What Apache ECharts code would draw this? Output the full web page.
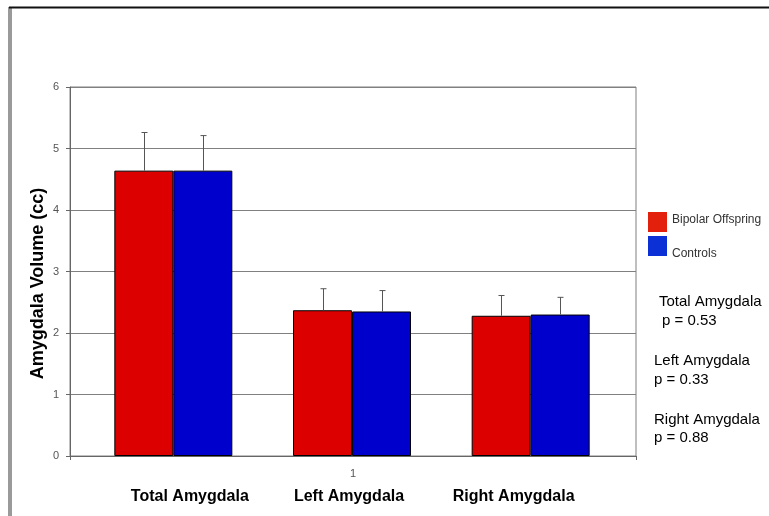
<!DOCTYPE html>
<html>
<head>
<meta charset="utf-8">
<script src="https://cdn.jsdelivr.net/npm/echarts@6/dist/echarts.min.js"></script>
<style>
html,body{margin:0;padding:0;background:#fff;}
#chart{width:769px;height:516px;}
</style>
</head>
<body>
<div id="chart"></div>
<script>
// ---- data ----
var regions = ['Total Amygdala', 'Left Amygdala', 'Right Amygdala'];
var seriesNames = ['Bipolar Offspring', 'Controls'];
var bipolar = [4.64, 2.37, 2.28];
var controls = [4.64, 2.35, 2.30];
var bipolarErr = [0.62, 0.35, 0.33];
var controlsErr = [0.57, 0.34, 0.28];
var outerCategory = ['1'];
var yTicks = [0, 1, 2, 3, 4, 5, 6];
var pRegions = ['Total Amygdala', 'Left Amygdala', 'Right Amygdala'];
var pValues = ['0.53', '0.33', '0.88'];
var yName = 'Amygdala Volume (cc)';

// ---- styles ----
var barColors = ['#DC0000', '#0000CC'];
var legendColors = ['#E2200C', '#0A30D6'];
var BAR_W = 59;
var font = 'Liberation Sans, Arial, sans-serif';

var chart = echarts.init(document.getElementById('chart'));

function errSeries(vals, errs, sign) {
  return {
    type: 'custom',
    xAxisIndex: 1, yAxisIndex: 1,
    silent: true, z: 5,
    data: vals.map(function (v, i) { return [i, v, v + errs[i]]; }),
    renderItem: function (params, api) {
      var base = api.coord([api.value(0), api.value(1)]);
      var top = api.coord([api.value(0), api.value(2)]);
      var x = Math.round(base[0] + sign * BAR_W / 2) + 0.5;
      var st = { stroke: '#555', lineWidth: 1 };
      return {
        type: 'group',
        children: [
          { type: 'line', shape: { x1: x, y1: base[1], x2: x, y2: top[1] }, style: st },
          { type: 'line', shape: { x1: x - 3, y1: top[1], x2: x + 3, y2: top[1] }, style: st }
        ]
      };
    }
  };
}

var labelShifts = [33, -6, -34];

var option = {
  animation: false,
  backgroundColor: '#fff',
  grid: [
    { left: 70, right: 133, top: 87, bottom: 60, show: true, borderColor: '#808080', borderWidth: 1 },
    { left: 84, right: 149, top: 87, bottom: 60 }
  ],
  legend: {
    orient: 'vertical', left: 648, top: 212, padding: 0,
    itemWidth: 19, itemHeight: 20, itemGap: 4, icon: 'rect',
    textStyle: {
      fontFamily: font, fontSize: 12, color: '#333',
      rich: {
        up: { fontFamily: font, fontSize: 12, color: '#333', padding: [0, 0, 5, 0] },
        down: { fontFamily: font, fontSize: 12, color: '#333', padding: [15, 0, 0, 0] }
      }
    },
    formatter: function (name) {
      return name === seriesNames[1] ? '{down|' + name + '}' : '{up|' + name + '}';
    },
    data: [
      { name: seriesNames[0], itemStyle: { color: legendColors[0], borderWidth: 0 } },
      { name: seriesNames[1], itemStyle: { color: legendColors[1], borderWidth: 0 } }
    ]
  },
  xAxis: [
    {
      type: 'category', gridIndex: 0, data: outerCategory,
      axisLine: { lineStyle: { color: '#666' } },
      axisTick: { show: true, length: 4, lineStyle: { color: '#666' } },
      axisLabel: { margin: 12, fontFamily: font, fontSize: 11, color: '#555' }
    },
    {
      type: 'category', gridIndex: 1,
      data: regions.map(function (r, i) {
        var s = labelShifts[i];
        return { value: r, textStyle: { padding: s >= 0 ? [0, 0, 0, s] : [0, -s, 0, 0] } };
      }),
      axisLine: { show: false }, axisTick: { show: false },
      axisLabel: { margin: 33, fontFamily: font, fontSize: 16, fontWeight: 'bold', color: '#000' }
    }
  ],
  yAxis: [
    {
      type: 'value', gridIndex: 0, min: yTicks[0], max: yTicks[yTicks.length - 1], interval: 1,
      name: yName, nameLocation: 'middle', nameGap: 23, nameMoveOverlap: false,
      nameTextStyle: { fontFamily: font, fontSize: 18, fontWeight: 'bold', color: '#000', padding: [0, 24, 0, 0] },
      axisLine: { show: true, lineStyle: { color: '#666' } },
      axisTick: { show: true, length: 4, lineStyle: { color: '#666' } },
      axisLabel: { margin: 11, fontFamily: font, fontSize: 11, color: '#555' },
      splitLine: { show: true, lineStyle: { color: '#808080', width: 1 } }
    },
    {
      type: 'value', gridIndex: 1, min: 0, max: 6, interval: 1, show: false,
      splitLine: { show: false }
    }
  ],
  series: [
    {
      name: seriesNames[0], type: 'bar', xAxisIndex: 1, yAxisIndex: 1,
      data: bipolar, barWidth: BAR_W, barGap: '0%',
      itemStyle: { color: barColors[0], borderColor: '#000', borderWidth: 1 }
    },
    {
      name: seriesNames[1], type: 'bar', xAxisIndex: 1, yAxisIndex: 1,
      data: controls, barWidth: BAR_W, barGap: '0%',
      itemStyle: { color: barColors[1], borderColor: '#000', borderWidth: 1 }
    },
    errSeries(bipolar, bipolarErr, -1),
    errSeries(controls, controlsErr, 1)
  ],
  graphic: [
    { type: 'rect', left: 8, top: 7, shape: { width: 4, height: 509 }, style: { fill: '#9a9a9a' }, silent: true },
    { type: 'line', shape: { x1: 9, y1: 7.5, x2: 769, y2: 7.5 }, style: { stroke: '#111', lineWidth: 2 }, silent: true }
  ]
};

// p-value annotations
var annX = [[659, 662], [654, 654], [654, 654]];
var annY = [[302, 321], [361, 379.5], [419.5, 437.5]];
pRegions.forEach(function (r, i) {
  option.graphic.push({
    type: 'text', x: annX[i][0], y: annY[i][0],
    style: { text: r, font: '15px ' + font, fill: '#000', verticalAlign: 'middle', align: 'left' }
  });
  option.graphic.push({
    type: 'text', x: annX[i][1], y: annY[i][1],
    style: { text: 'p = ' + pValues[i], font: '15px ' + font, fill: '#000', verticalAlign: 'middle', align: 'left' }
  });
});

chart.setOption(option);
</script>
</body>
</html>
